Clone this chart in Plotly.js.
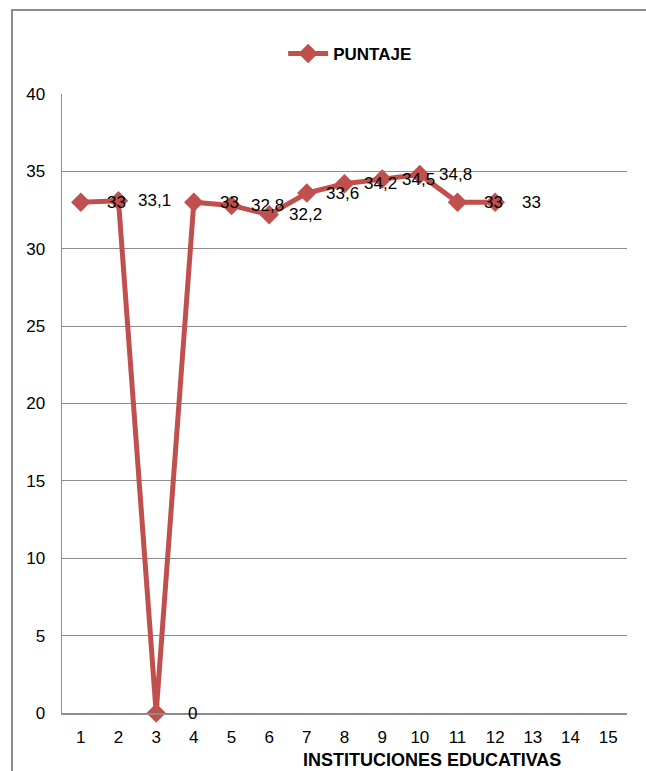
<!DOCTYPE html>
<html>
<head>
<meta charset="utf-8">
<script src="https://cdn.plot.ly/plotly-3.0.1.min.js"></script>
<style>
  html, body { margin: 0; padding: 0; background: #fff; }
  #chart { width: 646px; height: 771px; }
</style>
</head>
<body>
<div id="chart"></div>
<script>
// ---- data ----
const categories = ["1","2","3","4","5","6","7","8","9","10","11","12","13","14","15"];
const instituciones = ["1","2","3","4","5","6","7","8","9","10","11","12"];
const puntaje = [33, 33.1, 0, 33, 32.8, 32.2, 33.6, 34.2, 34.5, 34.8, 33, 33];
const seriesName = "PUNTAJE";
const xTitle = "INSTITUCIONES EDUCATIVAS";

const FONT = "Liberation Sans Narrow, Liberation Sans, Arial, sans-serif";
const RED = "#C0504D";

const trace = {
  x: instituciones,
  y: puntaje,
  type: "scatter",
  mode: "lines+markers",
  name: seriesName,
  line: { color: RED, width: 5 },
  marker: { symbol: "diamond", size: 15, color: RED },
  cliponaxis: false,
  hoverinfo: "skip"
};

// data labels sit one band to the right of each point (as in the reference)
const labelAnn = instituciones.map((c, i) => ({
  x: categories.indexOf(c), y: puntaje[i], xref: "x", yref: "y",
  text: String(puntaje[i]).replace(".", ","),
  showarrow: false, xshift: 36, yshift: 0,
  font: { family: FONT, size: 17, color: "#000" }
}));

const layout = {
  width: 646, height: 771,
  margin: { l: 62, r: 19, t: 94, b: 58 },
  paper_bgcolor: "#fff", plot_bgcolor: "#fff",
  font: { family: FONT, size: 17, color: "#000" },
  showlegend: true,
  legend: {
    orientation: "h", x: 0.51, y: 1.0646, xanchor: "center", yanchor: "middle",
    font: { family: FONT, size: 17, color: "#000", weight: "bold" },
    itemwidth: 40
  },
  xaxis: {
    type: "category", categoryorder: "array", categoryarray: categories,
    tickvals: categories, ticktext: categories,
    range: [-0.5, 14.5], showgrid: false, zeroline: false,
    showline: true, linecolor: "#8c8c8c", linewidth: 1.5,
    ticks: "", ticklabelstandoff: 8, fixedrange: true
  },
  yaxis: {
    range: [0, 40], dtick: 5, tick0: 0,
    showgrid: true, gridcolor: "#8c8c8c", gridwidth: 1.2,
    zeroline: false, showline: true, linecolor: "#8c8c8c", linewidth: 1.5,
    ticks: "", ticklabelstandoff: 12, fixedrange: true
  },
  annotations: labelAnn.concat([{
    text: xTitle, xref: "paper", yref: "paper", x: 0.655, y: -0.076,
    xanchor: "center", yanchor: "middle", showarrow: false,
    font: { family: FONT, size: 18, color: "#000", weight: "bold" }
  }]),
  shapes: [{
    type: "rect", xref: "paper", yref: "paper",
    x0: -0.0885, x1: 1.3, y0: -0.3, y1: 1.1357,
    line: { color: "#8c8c8c", width: 2 }, layer: "below"
  }]
};

Plotly.newPlot("chart", [trace], layout, { staticPlot: true, displayModeBar: false });
</script>
</body>
</html>
